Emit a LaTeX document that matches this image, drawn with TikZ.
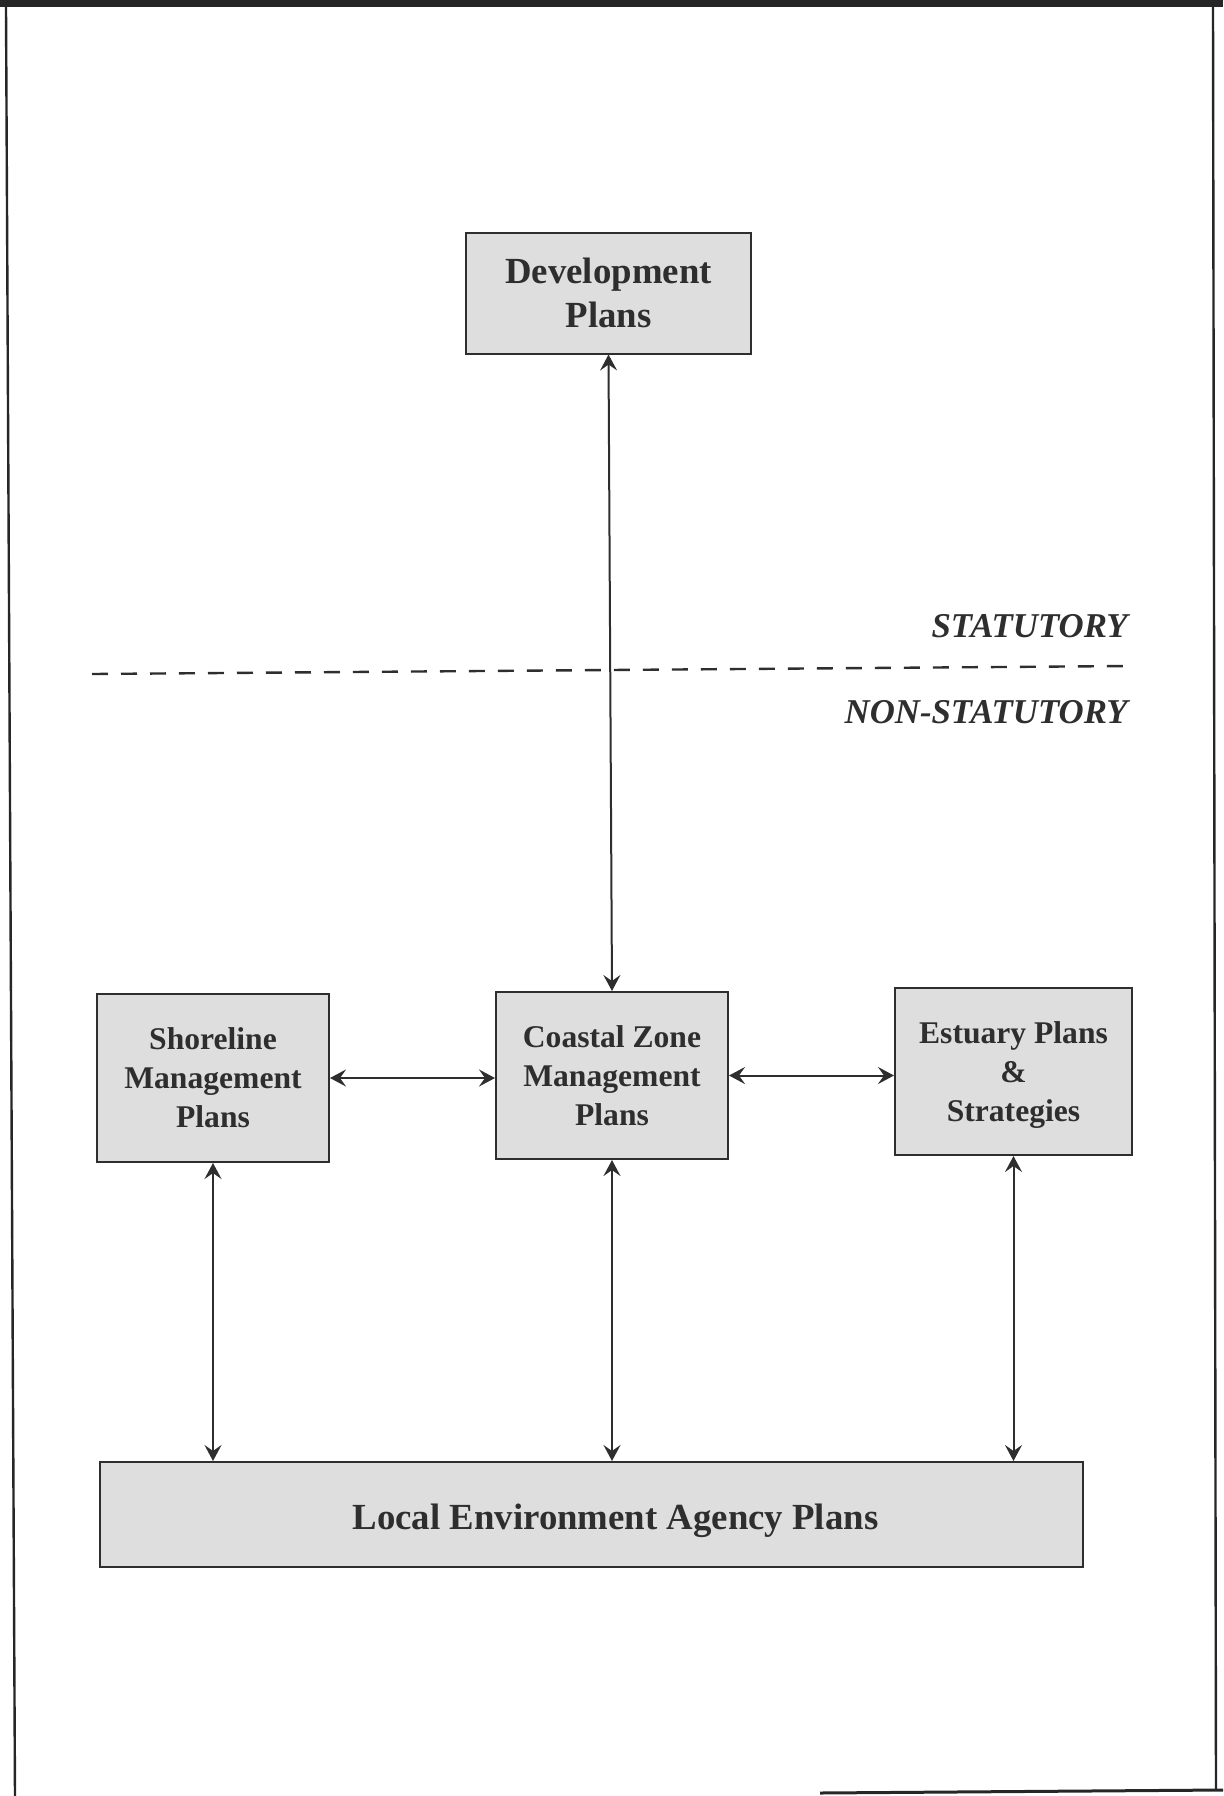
\documentclass[tikz,border=0pt]{standalone}
\usepackage{fontspec}
\setmainfont{Liberation Serif}
\usetikzlibrary{arrows.meta}
\definecolor{boxfill}{gray}{0.87}
\definecolor{ink}{gray}{0.18}
\tikzset{
  planbox/.style={draw=ink, line width=1pt, fill=boxfill, inner sep=0pt, align=center, text=ink, font=\bfseries\fontsize{15.8}{19.5}\selectfont},
  tip/.tip={Stealth[length=8pt,width=8.5pt,inset=3pt]},
  link/.style={draw=ink, line width=1pt, {tip}-{tip}},
  zonelabel/.style={anchor=east, inner sep=0pt, text=ink, font=\bfseries\itshape\fontsize{17.4}{20}\selectfont}
}
\begin{document}
\begin{tikzpicture}[x=0.5pt,y=-0.5pt]
\useasboundingbox (0,0) rectangle (1223,1796);
% scan frame
\fill[black!85] (0,0) rectangle (1223,7);
\draw[black!85, line width=1.2pt] (6,7) -- (15,1796);
\draw[black!85, line width=1.2pt] (1213,7) -- (1216,1790);
\draw[black!85, line width=1.5pt] (820,1793) -- (1223,1790);
% boxes
\node[planbox, minimum width=142.5pt, minimum height=60.5pt, font=\bfseries\fontsize{18.4}{22.3}\selectfont] (dev) at (608.5,293) {Development\\Plans};
\node[planbox, minimum width=116pt, minimum height=84pt] (shore) at (213,1078) {Shoreline\\Management\\Plans};
\node[planbox, minimum width=116pt, minimum height=83.5pt] (czm) at (612,1075.5) {Coastal Zone\\Management\\Plans};
\node[planbox, minimum width=118.5pt, minimum height=83.5pt] (est) at (1013.5,1071.5) {};
\node[planbox, draw=none, fill=none] (esttext) at (1013.5,1075.5) {Estuary Plans\\\&\\Strategies};
\node[planbox, minimum width=491.5pt, minimum height=52.5pt] (local) at (591.5,1514.5) {};
\node[inner sep=0pt, text=ink, font=\bfseries\fontsize{18.4}{22}\selectfont] (localtext) at (615.5,1521) {Local Environment Agency Plans};
% statutory divide
\coordinate (dl) at (92,674);
\coordinate (dr) at (1128,666);
\draw[ink, line width=1.2pt, dash pattern=on 8pt off 6.5pt] (dl) -- (dr);
\node[zonelabel] (stat) at (1128,626) {STATUTORY};
\node[zonelabel] (nonstat) at (1128,712) {NON-STATUTORY};
% connectors
\draw[link] (dev.south) -- (czm.north);
\draw[link] (shore.east) -- (czm.west |- shore.east);
\draw[link] (czm.east) -- (est.west |- czm.east);
\draw[link] (shore.south) -- (shore.south |- local.north);
\draw[link] (czm.south) -- (czm.south |- local.north);
\draw[link] (est.south) -- (est.south |- local.north);
\end{tikzpicture}
\end{document}
